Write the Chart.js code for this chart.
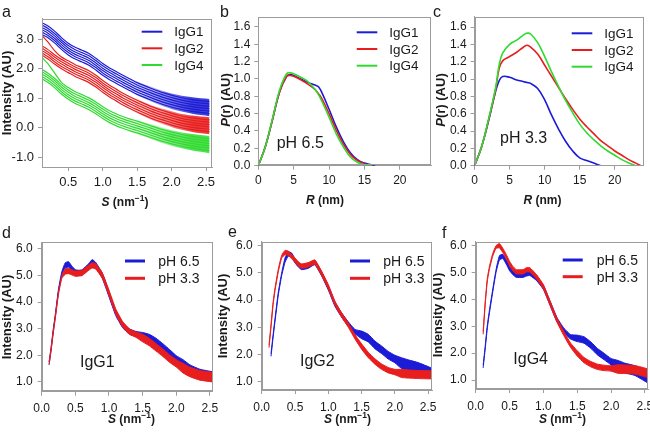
<!DOCTYPE html>
<html>
<head>
<meta charset="utf-8">
<script src="https://cdn.jsdelivr.net/npm/chart.js@4.4.1/dist/chart.umd.min.js"></script>
<style>
  html, body { margin: 0; padding: 0; background: #fff; }
  #wrap { position: relative; width: 650px; height: 432px; overflow: hidden; }
  #wrap canvas { position: absolute; left: 0; top: 0; }
</style>
</head>
<body>
<div id="wrap">
  <canvas id="pa" width="650" height="432"></canvas>
  <canvas id="pb" width="650" height="432"></canvas>
  <canvas id="pc" width="650" height="432"></canvas>
  <canvas id="pd" width="650" height="432"></canvas>
  <canvas id="pe" width="650" height="432"></canvas>
  <canvas id="pf" width="650" height="432"></canvas>
</div>
<script>
// ---- panel a : scattering curves, six frames per antibody (offset)
const aS = [0.13, 0.2, 0.3, 0.4, 0.5, 0.6, 0.7, 0.8, 0.9, 1.0, 1.1, 1.2, 1.3, 1.4, 1.5, 1.7, 1.9, 2.1, 2.3, 2.55];
const aIgG1 = [
  [3.55, 3.46, 3.28, 3.06, 2.87, 2.73, 2.63, 2.52, 2.36, 2.18, 2.03, 1.90, 1.77, 1.65, 1.53, 1.34, 1.17, 1.04, 0.95, 0.88],
  [3.47, 3.38, 3.20, 2.98, 2.79, 2.65, 2.55, 2.44, 2.28, 2.10, 1.95, 1.82, 1.69, 1.57, 1.45, 1.26, 1.09, 0.96, 0.87, 0.80],
  [3.39, 3.30, 3.12, 2.90, 2.71, 2.57, 2.47, 2.36, 2.20, 2.02, 1.87, 1.74, 1.61, 1.49, 1.37, 1.18, 1.01, 0.88, 0.79, 0.72],
  [3.31, 3.22, 3.04, 2.82, 2.63, 2.49, 2.39, 2.28, 2.12, 1.94, 1.79, 1.66, 1.53, 1.41, 1.29, 1.10, 0.93, 0.80, 0.71, 0.64],
  [3.23, 3.14, 2.96, 2.74, 2.55, 2.41, 2.31, 2.20, 2.04, 1.86, 1.71, 1.58, 1.45, 1.33, 1.21, 1.02, 0.85, 0.72, 0.63, 0.56],
  [3.15, 3.06, 2.88, 2.66, 2.47, 2.33, 2.23, 2.12, 1.96, 1.78, 1.63, 1.50, 1.37, 1.25, 1.13, 0.94, 0.77, 0.64, 0.55, 0.48]
];
const aIgG2 = [
  [3.10, 2.92, 2.62, 2.40, 2.27, 2.14, 2.04, 1.93, 1.78, 1.60, 1.44, 1.30, 1.16, 1.04, 0.93, 0.72, 0.56, 0.42, 0.33, 0.26],
  [2.76, 2.66, 2.48, 2.32, 2.19, 2.06, 1.96, 1.85, 1.70, 1.52, 1.36, 1.22, 1.08, 0.96, 0.85, 0.64, 0.48, 0.34, 0.25, 0.18],
  [2.68, 2.58, 2.40, 2.24, 2.11, 1.98, 1.88, 1.77, 1.62, 1.44, 1.28, 1.14, 1.00, 0.88, 0.77, 0.56, 0.40, 0.26, 0.17, 0.10],
  [2.60, 2.50, 2.32, 2.16, 2.03, 1.90, 1.80, 1.69, 1.54, 1.36, 1.20, 1.06, 0.92, 0.80, 0.69, 0.48, 0.32, 0.18, 0.09, 0.02],
  [2.52, 2.42, 2.24, 2.08, 1.95, 1.82, 1.72, 1.61, 1.46, 1.28, 1.12, 0.98, 0.84, 0.72, 0.61, 0.40, 0.24, 0.10, 0.01, -0.06],
  [2.44, 2.34, 2.16, 2.00, 1.87, 1.74, 1.64, 1.53, 1.38, 1.20, 1.04, 0.90, 0.76, 0.64, 0.53, 0.32, 0.16, 0.02, -0.07, -0.14]
];
const aIgG4 = [
  [2.36, 2.18, 1.86, 1.54, 1.36, 1.22, 1.12, 1.01, 0.87, 0.71, 0.57, 0.46, 0.37, 0.29, 0.22, 0.06, -0.09, -0.21, -0.30, -0.38],
  [1.96, 1.86, 1.68, 1.46, 1.28, 1.14, 1.04, 0.93, 0.79, 0.63, 0.49, 0.38, 0.29, 0.21, 0.14, -0.02, -0.17, -0.29, -0.38, -0.46],
  [1.88, 1.78, 1.60, 1.38, 1.20, 1.06, 0.96, 0.85, 0.71, 0.55, 0.41, 0.30, 0.21, 0.13, 0.06, -0.10, -0.25, -0.37, -0.46, -0.54],
  [1.80, 1.70, 1.52, 1.30, 1.12, 0.98, 0.88, 0.77, 0.63, 0.47, 0.33, 0.22, 0.13, 0.05, -0.02, -0.18, -0.33, -0.45, -0.54, -0.62],
  [1.72, 1.62, 1.44, 1.22, 1.04, 0.90, 0.80, 0.69, 0.55, 0.39, 0.25, 0.14, 0.05, -0.03, -0.10, -0.26, -0.41, -0.53, -0.62, -0.70],
  [1.64, 1.54, 1.36, 1.14, 0.96, 0.82, 0.72, 0.61, 0.47, 0.31, 0.17, 0.06, -0.03, -0.11, -0.18, -0.34, -0.49, -0.61, -0.70, -0.78]
];
// noisy tail of each bundle: upper / lower edge
const aNoiseS = [1.3, 1.4, 1.5, 1.7, 1.9, 2.1, 2.3, 2.55];
const aNoise1 = [[1.79, 1.68, 1.57, 1.39, 1.23, 1.11, 1.03, 0.97], [1.35, 1.22, 1.09, 0.89, 0.71, 0.57, 0.47, 0.39]];
const aNoise2 = [[1.18, 1.07, 0.97, 0.77, 0.62, 0.49, 0.41, 0.35], [0.74, 0.61, 0.49, 0.27, 0.10, -0.05, -0.15, -0.23]];
const aNoise4 = [[0.39, 0.32, 0.26, 0.11, -0.03, -0.14, -0.22, -0.29], [-0.05, -0.14, -0.22, -0.39, -0.55, -0.68, -0.78, -0.87]];
const aXTicks = [0.5, 1.0, 1.5, 2.0, 2.5];
const aYTicks = [-1, 0, 1, 2, 3];

// ---- panels b, c : pair distance distributions
const bR = [0, 1, 2, 3, 4, 4.5, 5, 6, 7, 8, 8.5, 9, 10, 11, 12, 13, 14, 15, 16, 16.5];
const bIgG1 = [0, 0.22, 0.53, 0.85, 1.03, 1.05, 1.04, 1.0, 0.96, 0.93, 0.91, 0.84, 0.65, 0.45, 0.28, 0.15, 0.07, 0.03, 0.01, 0];
const bIgG2 = [0, 0.22, 0.53, 0.85, 1.03, 1.04, 1.03, 0.99, 0.94, 0.88, 0.83, 0.77, 0.6, 0.41, 0.25, 0.13, 0.06, 0.02, 0, null];
const bIgG4 = [0, 0.22, 0.54, 0.87, 1.06, 1.07, 1.06, 1.02, 0.97, 0.88, 0.82, 0.74, 0.56, 0.37, 0.22, 0.1, 0.04, 0.01, 0, null];

const cR = [0, 1, 2, 3, 3.5, 4, 5, 6, 7, 7.5, 8, 9, 10, 11, 12, 13, 14, 15, 16, 17, 18, 19, 20, 21, 22, 23, 23.7];
const cIgG1 = [0, 0.22, 0.52, 0.86, 0.98, 1.03, 1.02, 0.99, 0.97, 0.96, 0.95, 0.89, 0.76, 0.58, 0.42, 0.28, 0.17, 0.09, 0.06, 0.03, 0, null, null, null, null, null, null];
const cIgG2 = [0, 0.22, 0.53, 0.88, 1.12, 1.21, 1.26, 1.31, 1.37, 1.39, 1.37, 1.29, 1.16, 1.03, 0.9, 0.77, 0.65, 0.54, 0.45, 0.37, 0.29, 0.23, 0.17, 0.12, 0.07, 0.03, 0];
const cIgG4 = [0, 0.22, 0.54, 0.9, 1.16, 1.3, 1.4, 1.45, 1.51, 1.53, 1.52, 1.42, 1.26, 1.08, 0.91, 0.75, 0.61, 0.48, 0.38, 0.3, 0.23, 0.17, 0.12, 0.07, 0.03, 0, null];
const prXTicks = [0, 5, 10, 15, 20];
const prYTicks = [0, 0.2, 0.4, 0.6, 0.8, 1.0, 1.2, 1.4, 1.6];

// ---- panels d, e, f : Kratky plots, upper / lower edge of each noisy trace
const kS = [0.11, 0.14, 0.17, 0.2, 0.25, 0.3, 0.35, 0.4, 0.45, 0.5, 0.55, 0.6, 0.7, 0.75, 0.8, 0.9, 1.0, 1.1, 1.2, 1.3, 1.4, 1.5, 1.6, 1.7, 1.8, 1.9, 2.0, 2.1, 2.2, 2.35, 2.55];
const dHi65 = [1.75, 2.3, 2.95, 3.5, 4.5, 5.15, 5.48, 5.52, 5.35, 5.22, 5.2, 5.22, 5.45, 5.6, 5.5, 5.1, 4.4, 3.7, 3.25, 3.0, 2.9, 2.86, 2.79, 2.64, 2.44, 2.22, 1.99, 1.84, 1.65, 1.48, 1.38];
const dLo65 = [1.65, 2.2, 2.85, 3.4, 4.4, 5.05, 5.28, 5.32, 5.15, 5.02, 5.0, 5.02, 5.25, 5.35, 5.3, 4.9, 4.2, 3.5, 3.05, 2.8, 2.7, 2.58, 2.51, 2.36, 2.16, 1.94, 1.71, 1.48, 1.29, 1.12, 1.02];
const dHi33 = [1.75, 2.3, 2.9, 3.45, 4.4, 5.0, 5.25, 5.27, 5.22, 5.17, 5.18, 5.2, 5.4, 5.48, 5.45, 5.1, 4.45, 3.75, 3.28, 3.0, 2.88, 2.79, 2.64, 2.44, 2.24, 2.02, 1.84, 1.7, 1.56, 1.43, 1.36];
const dLo33 = [1.65, 2.2, 2.8, 3.35, 4.3, 4.9, 5.05, 5.07, 5.02, 4.97, 4.98, 5.0, 5.2, 5.28, 5.25, 4.9, 4.25, 3.55, 3.08, 2.8, 2.68, 2.51, 2.36, 2.16, 1.96, 1.74, 1.56, 1.34, 1.2, 1.07, 1.0];
const eHi65 = [null, 2.03, 2.7, 3.32, 4.3, 5.0, 5.55, 5.78, 5.73, 5.53, 5.38, 5.28, 5.33, 5.41, 5.46, 5.05, 4.53, 3.93, 3.53, 3.2, 2.92, 2.86, 2.74, 2.49, 2.31, 2.11, 1.97, 1.88, 1.8, 1.7, 1.5];
const eLo65 = [null, 1.93, 2.6, 3.22, 4.2, 4.9, 5.39, 5.62, 5.57, 5.37, 5.22, 5.12, 5.17, 5.25, 5.3, 4.89, 4.37, 3.77, 3.37, 3.04, 2.76, 2.58, 2.46, 2.21, 2.03, 1.83, 1.69, 1.48, 1.4, 1.3, 1.1];
const eHi33 = [2.35, 3.1, 3.9, 4.45, 5.15, 5.65, 5.83, 5.8, 5.68, 5.55, 5.41, 5.33, 5.38, 5.44, 5.48, 5.06, 4.57, 3.96, 3.53, 3.16, 2.73, 2.39, 2.08, 1.84, 1.65, 1.52, 1.45, 1.45, 1.43, 1.41, 1.4];
const eLo33 = [2.25, 3.0, 3.8, 4.35, 5.05, 5.55, 5.67, 5.64, 5.52, 5.39, 5.25, 5.17, 5.22, 5.28, 5.32, 4.9, 4.41, 3.8, 3.37, 3.0, 2.57, 2.19, 1.88, 1.64, 1.45, 1.32, 1.25, 1.15, 1.13, 1.11, 1.1];
const fHi65 = [1.55, 2.25, 3.0, 3.55, 4.35, 5.1, 5.63, 5.68, 5.48, 5.23, 5.08, 4.98, 4.98, 5.03, 5.05, 4.86, 4.53, 3.93, 3.33, 2.94, 2.69, 2.67, 2.61, 2.42, 2.17, 1.99, 1.8, 1.73, 1.63, 1.53, 1.24];
const fLo65 = [1.45, 2.15, 2.9, 3.45, 4.25, 5.0, 5.47, 5.52, 5.32, 5.07, 4.92, 4.82, 4.82, 4.87, 4.89, 4.7, 4.37, 3.77, 3.17, 2.78, 2.53, 2.43, 2.37, 2.18, 1.93, 1.75, 1.56, 1.37, 1.27, 1.17, 0.88];
const fHi33 = [2.8, 3.9, 4.75, 5.2, 5.7, 6.0, 6.08, 5.91, 5.68, 5.42, 5.23, 5.11, 5.11, 5.18, 5.18, 4.92, 4.55, 3.93, 3.31, 2.82, 2.38, 2.09, 1.84, 1.69, 1.59, 1.55, 1.53, 1.57, 1.56, 1.54, 1.41];
const fLo33 = [2.7, 3.8, 4.65, 5.1, 5.6, 5.9, 5.92, 5.75, 5.52, 5.26, 5.07, 4.95, 4.95, 5.02, 5.02, 4.76, 4.39, 3.77, 3.15, 2.66, 2.22, 1.89, 1.64, 1.49, 1.39, 1.35, 1.33, 1.25, 1.24, 1.22, 1.09];
const kXTicks = [0, 0.5, 1.0, 1.5, 2.0, 2.5];
const kYTicks = [1, 2, 3, 4, 5, 6];

const BLUE = '#1c1cd6', RED = '#e81e1e', GREEN = '#30da30';
const BLUE_RGB = '28,28,214', RED_RGB = '232,30,30', GREEN_RGB = '48,218,48';
const FONT = "'Liberation Sans', Arial, sans-serif";
const INK = '#1a1a1a';

function pts(xs, ys) {
  return xs.map((x, i) => ({ x: x, y: ys[i] }));
}

// line helper
function line(xs, ys, color, w, tension) {
  return { data: pts(xs, ys), borderColor: color, borderWidth: w, pointRadius: 0, tension: tension, fill: false };
}

// noisy trace drawn as a filled band between its upper and lower edge
function band(hi, lo, color) {
  return [
    { data: pts(kS, hi), borderColor: color, borderWidth: 1, pointRadius: 0, tension: 0.15, fill: false },
    { data: pts(kS, lo), borderColor: color, borderWidth: 1, pointRadius: 0, tension: 0.15, fill: '-1', backgroundColor: color }
  ];
}

// fading fill behind the noisy end of a bundle in panel a
function noise(edges, rgb) {
  const bg = c => {
    const ch = c.chart;
    if (!ch.chartArea) return 'rgba(0,0,0,0)';
    const sx = ch.scales.x;
    const g = ch.ctx.createLinearGradient(sx.getPixelForValue(1.3), 0, sx.getPixelForValue(2.3), 0);
    g.addColorStop(0, 'rgba(' + rgb + ',0)');
    g.addColorStop(1, 'rgba(' + rgb + ',0.85)');
    return g;
  };
  return [
    { data: pts(aNoiseS, edges[0]), borderWidth: 0, pointRadius: 0, tension: 0.3, fill: false },
    { data: pts(aNoiseS, edges[1]), borderWidth: 0, pointRadius: 0, tension: 0.3, fill: '-1', backgroundColor: bg }
  ];
}

// text made of pieces with different fonts, centred on (cx, base)
function drawParts(ctx, parts, cx, base, rotate) {
  ctx.save();
  ctx.translate(cx, base);
  if (rotate) ctx.rotate(-Math.PI / 2);
  ctx.textBaseline = 'alphabetic';
  ctx.textAlign = 'left';
  let w = 0;
  parts.forEach(p => { ctx.font = p.f; w += ctx.measureText(p.t).width; });
  let x = -w / 2;
  parts.forEach(p => {
    ctx.font = p.f;
    ctx.fillText(p.t, x, p.dy || 0);
    x += ctx.measureText(p.t).width;
  });
  ctx.restore();
}

const B = s => 'bold ' + s + 'px ' + FONT;
const BI = s => 'italic bold ' + s + 'px ' + FONT;
const sTitle = [{ t: 'S', f: BI(12) }, { t: ' (nm', f: B(12) }, { t: '\u22121', f: B(8.5), dy: -5 }, { t: ')', f: B(12) }];
const rTitle = [{ t: 'R', f: BI(12) }, { t: ' (nm)', f: B(12) }];
const iTitle = [{ t: 'Intensity (AU)', f: B(13) }];
const pTitle = [{ t: 'P', f: BI(13) }, { t: '(r) (AU)', f: B(13) }];

const DECO = {};

const decoPlugin = {
  id: 'deco',
  afterDraw(chart) {
    const o = DECO[chart.canvas.id];
    const ctx = chart.ctx, a = chart.chartArea;
    ctx.save();
    // grey frame all round the plot
    ctx.strokeStyle = '#9c9c9c';
    ctx.lineWidth = 1;
    ctx.strokeRect(Math.round(a.left) + 0.5, Math.round(a.top) + 0.5, Math.round(a.right - a.left) - 1, Math.round(a.bottom - a.top) - 1);
    ctx.fillStyle = INK;
    ctx.font = '16px ' + FONT;
    ctx.fillText(o.letter[0], o.letter[1], o.letter[2]);
    drawParts(ctx, o.xTitle[0], o.xTitle[1], o.xTitle[2], false);
    drawParts(ctx, o.yTitle[0], o.yTitle[1], o.yTitle[2], true);
    // legend
    const L = o.legend;
    L.items.forEach((it, i) => {
      ctx.strokeStyle = it[1];
      ctx.lineWidth = L.lw;
      ctx.beginPath();
      ctx.moveTo(L.x0, L.ys[i]);
      ctx.lineTo(L.x1, L.ys[i]);
      ctx.stroke();
      ctx.fillStyle = INK;
      ctx.font = L.size + 'px ' + FONT;
      ctx.textBaseline = 'middle';
      ctx.fillText(it[0], L.tx, L.ys[i] + 1);
    });
    ctx.textBaseline = 'alphabetic';
    ctx.font = '16px ' + FONT;
    ctx.fillText(o.note[0], o.note[1], o.note[2]);
    ctx.restore();
  }
};

function makePanel(id, p) {
  DECO[id] = p.deco;
  const axis = (s, isX) => ({
    type: 'linear',
    min: s.min,
    max: s.max,
    afterBuildTicks: sc => { sc.ticks = s.ticks.map(v => ({ value: v })); },
    afterFit: sc => {
      if (isX) { sc.height = 30; sc.paddingLeft = 0; sc.paddingRight = 0; }
      else { sc.width = 40; sc.paddingTop = 0; sc.paddingBottom = 0; }
    },
    ticks: {
      callback: s.fmt,
      color: INK,
      font: { family: FONT, size: p.tickSize },
      padding: s.pad,
      maxRotation: 0,
      autoSkip: false
    },
    grid: { drawOnChartArea: false, drawTicks: true, tickLength: 4, tickColor: '#9c9c9c' },
    border: { display: true, color: '#9c9c9c' }
  });
  return new Chart(document.getElementById(id), {
    type: 'line',
    data: { datasets: p.datasets },
    options: {
      responsive: false,
      animation: false,
      events: [],
      layout: { padding: { left: p.box[0] - 40, top: p.box[1], right: 650 - p.box[2], bottom: 432 - p.box[3] - 30 } },
      plugins: { legend: { display: false }, tooltip: { enabled: false } },
      scales: { x: axis(p.x, true), y: axis(p.y, false) }
    },
    plugins: [decoPlugin]
  });
}

const f1 = v => v.toFixed(1);
const f0 = v => v.toFixed(0);

// panel a : lines first (drawn on top), noise fills last (drawn underneath)
const aSets = [];
aIgG1.forEach(r => aSets.push(line(aS, r, BLUE, 1.2, 0.3)));
aIgG2.forEach(r => aSets.push(line(aS, r, RED, 1.2, 0.3)));
aIgG4.forEach(r => aSets.push(line(aS, r, GREEN, 1.2, 0.3)));
noise(aNoise1, BLUE_RGB).concat(noise(aNoise2, RED_RGB), noise(aNoise4, GREEN_RGB)).forEach(d => aSets.push(d));

makePanel('pa', {
  box: [42, 18.5, 212, 167], tickSize: 13,
  x: { min: 0.118, max: 2.587, ticks: aXTicks, fmt: f1, pad: 4 },
  y: { min: -1.34, max: 3.71, ticks: aYTicks, fmt: f1, pad: 4 },
  datasets: aSets,
  deco: {
    letter: ['a', 2, 16.7],
    xTitle: [sTitle, 125, 205.5],
    yTitle: [iTitle, 11, 93],
    legend: { items: [['IgG1', BLUE], ['IgG2', RED], ['IgG4', GREEN]], x0: 141.7, x1: 162.3, tx: 174.3, ys: [31.7, 48.3, 65], lw: 2, size: 13.5 },
    note: ['', 0, 0]
  }
});

// panel b
makePanel('pb', {
  box: [258.3, 17.3, 431.7, 165.7], tickSize: 12,
  x: { min: 0, max: 24.5, ticks: prXTicks, fmt: f0, pad: 4 },
  y: { min: 0, max: 1.71, ticks: prYTicks, fmt: f1, pad: 4 },
  datasets: [line(bR, bIgG4, GREEN, 1.6, 0.4), line(bR, bIgG2, RED, 1.6, 0.4), line(bR, bIgG1, BLUE, 1.6, 0.4)],
  deco: {
    letter: ['b', 220, 16.7],
    xTitle: [rTitle, 325, 204],
    yTitle: [pTitle, 230, 100],
    legend: { items: [['IgG1', BLUE], ['IgG2', RED], ['IgG4', GREEN]], x0: 356.7, x1: 377.3, tx: 389.3, ys: [32.3, 49, 65.7], lw: 2, size: 13.5 },
    note: ['pH 6.5', 276.7, 147.7]
  }
});

// panel c
makePanel('pc', {
  box: [474.6, 16.7, 643.5, 165.7], tickSize: 12,
  x: { min: 0, max: 24.1, ticks: prXTicks, fmt: f0, pad: 4 },
  y: { min: 0, max: 1.72, ticks: prYTicks, fmt: f1, pad: 4 },
  datasets: [line(cR, cIgG4, GREEN, 1.6, 0.4), line(cR, cIgG2, RED, 1.6, 0.4), line(cR, cIgG1, BLUE, 1.6, 0.4)],
  deco: {
    letter: ['c', 433, 16.7],
    xTitle: [rTitle, 542.5, 204],
    yTitle: [pTitle, 445, 100],
    legend: { items: [['IgG1', BLUE], ['IgG2', RED], ['IgG4', GREEN]], x0: 571.7, x1: 592.3, tx: 604.3, ys: [33.3, 50, 66.7], lw: 2, size: 13.5 },
    note: ['pH 3.3', 500, 142.7]
  }
});

// panels d, e, f
const kLegend = (x0, x1, tx, ys) => ({ items: [['pH 6.5', BLUE], ['pH 3.3', RED]], x0: x0, x1: x1, tx: tx, ys: ys, lw: 3, size: 14 });

makePanel('pd', {
  box: [41.7, 242.3, 212.3, 391.7], tickSize: 12,
  x: { min: 0, max: 2.535, ticks: kXTicks, fmt: f1, pad: 6 },
  y: { min: 0.635, max: 6.25, ticks: kYTicks, fmt: f1, pad: 5 },
  datasets: band(dHi33, dLo33, RED).concat(band(dHi65, dLo65, BLUE)),
  deco: {
    letter: ['d', 2, 238],
    xTitle: [sTitle, 131.5, 423.3],
    yTitle: [iTitle, 11, 317],
    legend: kLegend(125, 145, 158.3, [261, 278.3]),
    note: ['IgG1', 80, 366.7]
  }
});

makePanel('pe', {
  box: [261.7, 241.7, 432, 390], tickSize: 12,
  x: { min: 0, max: 2.557, ticks: kXTicks, fmt: f1, pad: 6 },
  y: { min: 0.69, max: 6.15, ticks: kYTicks, fmt: f1, pad: 5 },
  datasets: band(eHi33, eLo33, RED).concat(band(eHi65, eLo65, BLUE)),
  deco: {
    letter: ['e', 228, 236.7],
    xTitle: [sTitle, 347.5, 423],
    yTitle: [iTitle, 227, 316],
    legend: kLegend(350, 370, 383.3, [261, 278.3]),
    note: ['IgG2', 300, 366]
  }
});

makePanel('pf', {
  box: [475.7, 241.7, 648, 389], tickSize: 12,
  x: { min: 0, max: 2.545, ticks: kXTicks, fmt: f1, pad: 6 },
  y: { min: 0.665, max: 6.15, ticks: kYTicks, fmt: f1, pad: 5 },
  datasets: band(fHi33, fLo33, RED).concat(band(fHi65, fLo65, BLUE)),
  deco: {
    letter: ['f', 442, 238],
    xTitle: [sTitle, 562.5, 422.5],
    yTitle: [iTitle, 442, 315],
    legend: kLegend(562.7, 582.7, 596.7, [260, 276.7]),
    note: ['IgG4', 513.3, 364]
  }
});
</script>
</body>
</html>
